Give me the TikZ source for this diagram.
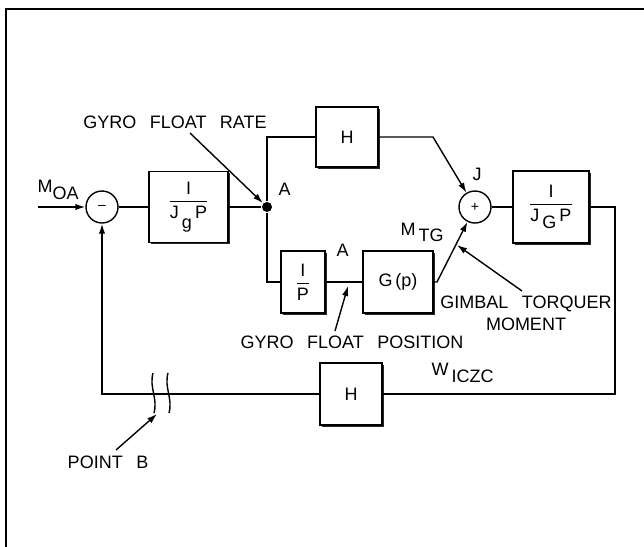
\documentclass[tikz,border=0pt]{standalone}
\usepackage{amsmath}
\usepackage{fontspec}
\setmainfont{Liberation Sans}
\usetikzlibrary{arrows.meta,shadows}

\newcommand{\gap}{\hspace{0.75em}}
\newcommand{\ratio}[2]{$\dfrac{\mbox{#1}}{\mbox{#2}}$}

\tikzset{
  blk/.style={draw, fill=white, inner sep=0pt,
    drop shadow={shadow xshift=0.9pt, shadow yshift=-0.9pt, fill=black!85, opacity=1}},
  sumj/.style={draw, circle, fill=white, minimum size=16pt, inner sep=0pt},
  lbl/.style={inner sep=0pt}
}

\begin{document}
\begin{tikzpicture}[x=0.5pt, y=-0.5pt, line width=0.7pt,
    >={Latex[length=5pt,width=3.2pt]},
    font=\fontsize{9}{11}\selectfont]
  \useasboundingbox (0,0) rectangle (644,547);
  \draw[line width=1pt] (6,547) -- (6,9) -- (644,9);

  % blocks and junctions
  \node[sumj] (S1) at (102,207) {\scriptsize --};
  \node[blk, minimum width=39.5pt, minimum height=35.5pt] (G1) at (188.5,207) {\ratio{I}{J\,\raisebox{-1ex}{g}\,P}};
  \node[circle, fill, inner sep=0pt, minimum size=5pt] (A1) at (267,207) {};
  \node[blk, minimum width=31pt, minimum height=30pt] (H1) at (347,137) {H};
  \node[blk, minimum width=22pt, minimum height=31pt] (P1) at (303,282) {\ratio{I}{P}};
  \node[blk, minimum width=35pt, minimum height=31pt] (G2) at (398,282) {G\,(p)};
  \node[sumj] (S2) at (475,207) {\scriptsize +};
  \node[blk, minimum width=38pt, minimum height=36pt] (G3) at (551,207) {\ratio{I}{J\,\raisebox{-0.8ex}{G}\,P}};
  \node[blk, minimum width=31pt, minimum height=31pt] (H2) at (351,394) {H};

  % corners of the signal lines
  \coordinate (IN) at (38,207);
  \coordinate (T1) at (267,137);
  \coordinate (T2) at (433,137);
  \coordinate (T3) at (267,282);
  \coordinate (T4) at (437,282);
  \coordinate (T5) at (615,207);
  \coordinate (T6) at (615,394);
  \coordinate (T7) at (102,394);

  \draw[->] (IN) -- (S1);
  \path
  (S1) edge (G1)
  (G1) edge (A1)
  (P1) edge (G2)
  (S2) edge (G3);
  \draw (A1) -- (T1) -- (H1);
  \draw[->] (H1) -- (T2) -- (S2);
  \draw (A1) -- (T3) -- (P1);
  \draw[->] (G2) -- (T4) -- (S2);
  \draw (G3) -- (T5) -- (T6) -- (H2);
  \draw[->] (H2) -- (T7) -- (S1);

  % break in the feedback line
  \draw (153,373) .. controls (149,388) and (158,398) .. (154,413);
  \draw (168,373) .. controls (164,388) and (173,398) .. (169,413);

  % labels
  \node[lbl, anchor=base west] (L1) at (37,192) {M\raisebox{-0.8ex}{OA}};
  \node[lbl] (L2) at (175,122) {GYRO\gap FLOAT\gap RATE};
  \node[lbl, anchor=base west] (L3) at (278,195) {A};
  \node[lbl, anchor=base west] (L4) at (472,180) {J};
  \node[lbl, anchor=base west] (L5) at (400,235) {M\,\raisebox{-0.7ex}{TG}};
  \node[lbl, anchor=base west] (L6) at (336,256) {A};
  \node[lbl] (L7) at (352,342) {GYRO\gap FLOAT\gap POSITION};
  \node[lbl, align=center] (L8) at (526,313) {GIMBAL\gap TORQUER\\MOMENT};
  \node[lbl, anchor=base west] (L9) at (431,375) {W\,\raisebox{-0.8ex}{ICZC}};
  \node[lbl] (L10) at (108,462) {POINT\gap B};

  % pointers
  \coordinate (R0) at (190,133);
  \coordinate (F0) at (335,331);
  \coordinate (F1) at (348,286);
  \coordinate (M0) at (522,291);
  \coordinate (M1) at (457,245);
  \coordinate (B0) at (116,450);
  \coordinate (B1) at (157,414);
  \draw[->] (R0) -- (A1);
  \draw[->] (F0) -- (F1);
  \draw[->] (M0) -- (M1);
  \draw[->] (B0) -- (B1);
\end{tikzpicture}
\end{document}
